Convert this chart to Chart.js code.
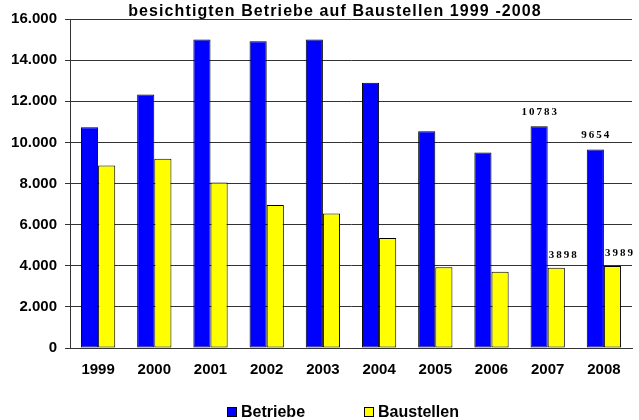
<!DOCTYPE html>
<html>
<head>
<meta charset="utf-8">
<script src="https://cdn.jsdelivr.net/npm/chart.js@4/dist/chart.umd.min.js"></script>
<style>
  html, body { margin: 0; padding: 0; background: #fff; }
  #wrap { width: 639px; height: 420px; }
</style>
</head>
<body>
<div id="wrap"><canvas id="chart"></canvas></div>
<script>
// data
const years = ['1999', '2000', '2001', '2002', '2003', '2004', '2005', '2006', '2007', '2008'];
const betriebe = [10730, 12330, 15000, 14920, 15000, 12900, 10540, 9510, 10783, 9654];
const baustellen = [8880, 9200, 8050, 6960, 6540, 5350, 3930, 3710, 3898, 3989];
const labelledYears = ['2007', '2008'];
const titleText = 'besichtigten Betriebe auf Baustellen 1999 -2008';

const sansBold = "bold 15px 'Liberation Sans', Arial, sans-serif";

// thousands with a dot, like 16.000
function formatTick(v) {
    if (v === 0) return '0';
    return Math.floor(v / 1000) + '.' + String(v % 1000).padStart(3, '0');
}

// title sits on top of the plot, partly cut at the top edge
const titlePlugin = {
    id: 'titlePlugin',
    afterDraw(chart) {
        const ctx = chart.ctx;
        ctx.save();
        ctx.font = "bold 16px 'Liberation Sans', Arial, sans-serif";
        ctx.letterSpacing = '1.1px';
        ctx.fillStyle = '#000';
        ctx.textAlign = 'center';
        ctx.textBaseline = 'alphabetic';
        ctx.fillText(titleText, 335, 16);
        ctx.restore();
    }
};

// value labels only for the last two years
const valueLabels = {
    id: 'valueLabels',
    afterDatasetsDraw(chart) {
        const ctx = chart.ctx;
        ctx.save();
        ctx.font = "bold 11px 'Liberation Serif', 'Times New Roman', serif";
        ctx.letterSpacing = '2px';
        ctx.fillStyle = '#000';
        ctx.textBaseline = 'alphabetic';
        chart.data.datasets.forEach((ds, di) => {
            const meta = chart.getDatasetMeta(di);
            labelledYears.forEach(year => {
                const i = chart.data.labels.indexOf(year);
                const bar = meta.data[i];
                const text = String(ds.data[i]);
                if (di === 0) {
                    ctx.textAlign = 'center';
                    ctx.fillText(text, bar.x + 1, bar.y - 11);
                } else {
                    ctx.textAlign = 'left';
                    ctx.fillText(text, bar.x - bar.width / 2 + 1, bar.y - 10);
                }
            });
        });
        ctx.restore();
    }
};

// legend at the bottom, items spaced like the original
const bottomLegend = {
    id: 'bottomLegend',
    afterDraw(chart) {
        const ctx = chart.ctx;
        const xs = [227, 364];
        ctx.save();
        ctx.font = "bold 16px 'Liberation Sans', Arial, sans-serif";
        ctx.textBaseline = 'alphabetic';
        ctx.textAlign = 'left';
        chart.data.datasets.forEach((ds, i) => {
            const x = xs[i];
            ctx.fillStyle = ds.backgroundColor;
            ctx.fillRect(x + 0.5, 407.5, 9, 9);
            ctx.strokeStyle = '#000';
            ctx.lineWidth = 1;
            ctx.strokeRect(x + 0.5, 407.5, 9, 9);
            ctx.fillStyle = '#000';
            ctx.fillText(ds.label, x + 14, 417);
        });
        ctx.restore();
    }
};

const ctx = document.getElementById('chart').getContext('2d');
const chart = new Chart(ctx, {
    type: 'bar',
    data: {
        labels: years,
        datasets: [{
            label: 'Betriebe',
            data: betriebe,
            backgroundColor: '#0000FF',
            borderColor: '#000',
            borderWidth: 1,
            borderSkipped: false
        }, {
            label: 'Baustellen',
            data: baustellen,
            backgroundColor: '#FFFF00',
            borderColor: '#000',
            borderWidth: 1,
            borderSkipped: false
        }]
    },
    options: {
        responsive: true,
        maintainAspectRatio: false,
        animation: false,
        datasets: {
            bar: {
                categoryPercentage: 0.61,
                barPercentage: 1.0
            }
        },
        layout: {
            padding: { left: 0, right: 7, top: 19, bottom: 32 }
        },
        scales: {
            x: {
                grid: { display: false, drawTicks: false },
                border: { display: true, color: '#333' },
                ticks: {
                    color: '#000',
                    font: { family: "'Liberation Sans', Arial, sans-serif", size: 15, weight: 'bold' },
                    padding: 13,
                    maxRotation: 0
                },
                afterFit(scale) { scale.height = 40; }
            },
            y: {
                min: 0,
                max: 16000,
                ticks: {
                    stepSize: 2000,
                    color: '#000',
                    font: { family: "'Liberation Sans', Arial, sans-serif", size: 15, weight: 'bold' },
                    padding: 8,
                    callback: v => formatTick(v)
                },
                grid: { color: '#333', lineWidth: 1, tickLength: 5 },
                border: { display: true, color: '#333', width: 1 },
                afterFit(scale) { scale.width = 70; }
            }
        },
        plugins: {
            legend: { display: false },
            title: { display: false },
            tooltip: { enabled: false }
        }
    },
    plugins: [titlePlugin, valueLabels, bottomLegend]
});
</script>
</body>
</html>
